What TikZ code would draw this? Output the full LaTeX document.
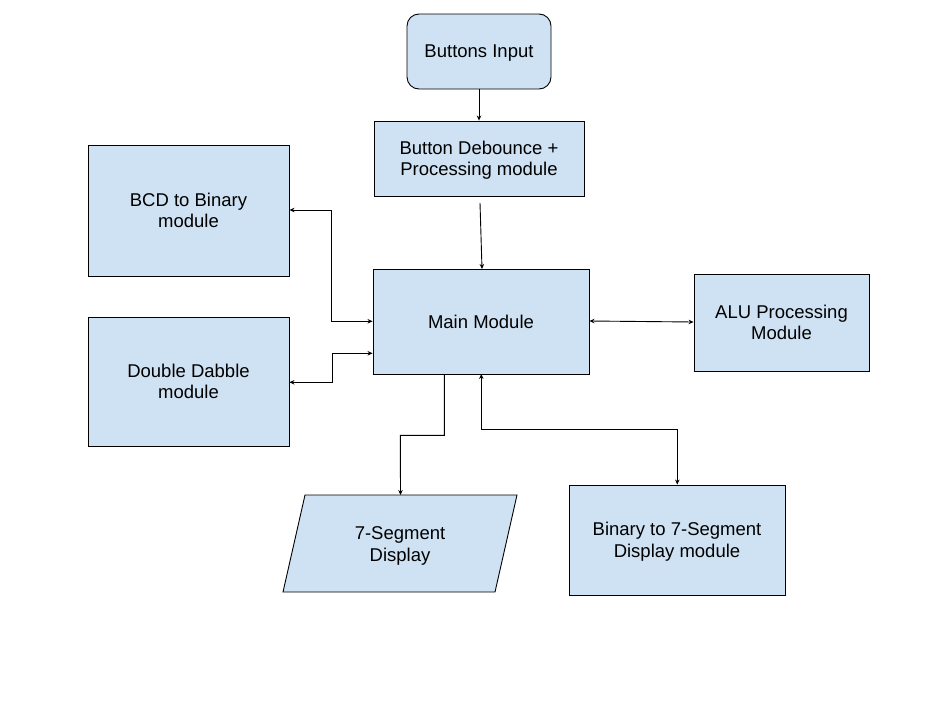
\documentclass[tikz,border=0pt]{standalone}
\usepackage{fontspec}
\setmainfont{Liberation Sans}
\usetikzlibrary{arrows.meta,shapes.geometric}
\definecolor{boxfill}{HTML}{CFE2F3}
\tikzset{
  box/.style={draw=black,fill=boxfill,line width=0.9pt,inner sep=0pt,align=center,text depth=0pt,font=\fontsize{18.5}{21.5}\selectfont},
  conn/.style={draw=black,line width=0.9pt,-{Stealth[length=5pt,width=4.5pt]}},
  bconn/.style={draw=black,line width=0.9pt,{Stealth[length=5pt,width=4.5pt]}-{Stealth[length=5pt,width=4.5pt]}},
}
\begin{document}
\begin{tikzpicture}[x=1pt,y=-1pt]
\useasboundingbox (0,0) rectangle (949,720);
\node[box,rounded corners=12pt,minimum width=144pt,minimum height=75pt] (bi) at (479,51.5) {Buttons Input};
\node[box,minimum width=210pt,minimum height=75pt] (deb) at (479,158.5) {Button Debounce +\\Processing module};
\node[box,minimum width=201pt,minimum height=131pt] (bcd) at (188.5,210.5) {BCD to Binary\\module};
\node[box,minimum width=201pt,minimum height=129pt] (dd) at (188.5,381.5) {Double Dabble\\module};
\node[box,minimum width=216pt,minimum height=105pt] (main) at (481,321.5) {Main Module};
\node[box,minimum width=175pt,minimum height=97pt] (alu) at (781.5,322.5) {ALU Processing\\Module};
\node[box,minimum width=216pt,minimum height=110pt] (bin) at (677,540) {Binary to 7-Segment\\Display module};
\path[draw=black,fill=boxfill,line width=0.9pt] (305,495) -- (517,495) -- (495,592) -- (283,592) -- cycle;
\node[font=\fontsize{18.5}{21.5}\selectfont,align=center,text depth=0pt] (seg) at (400,544) {7-Segment\\Display};
\coordinate (segtop) at (400.5,495);
\coordinate (debout) at (480,203);
\draw[conn] (bi.south) -- (deb.north);
\draw[conn] (debout) -- (482,269);
\draw[bconn] (main.west |- 0,321.3) -| (331,210) -- (bcd.east |- 0,210);
\draw[bconn] (main.west |- 0,353.3) -| (332.3,382.3) -- (dd.east |- 0,382.3);
\draw[bconn] (main.east |- 0,321) -- (alu.west |- 0,322);
\draw[conn] (444.3,374) |- (400.3,435.3) -- (segtop);
\draw[bconn] (481.3,374) |- (677.3,429.3) -- (bin.north -| 677.3,0);
\end{tikzpicture}
\end{document}
